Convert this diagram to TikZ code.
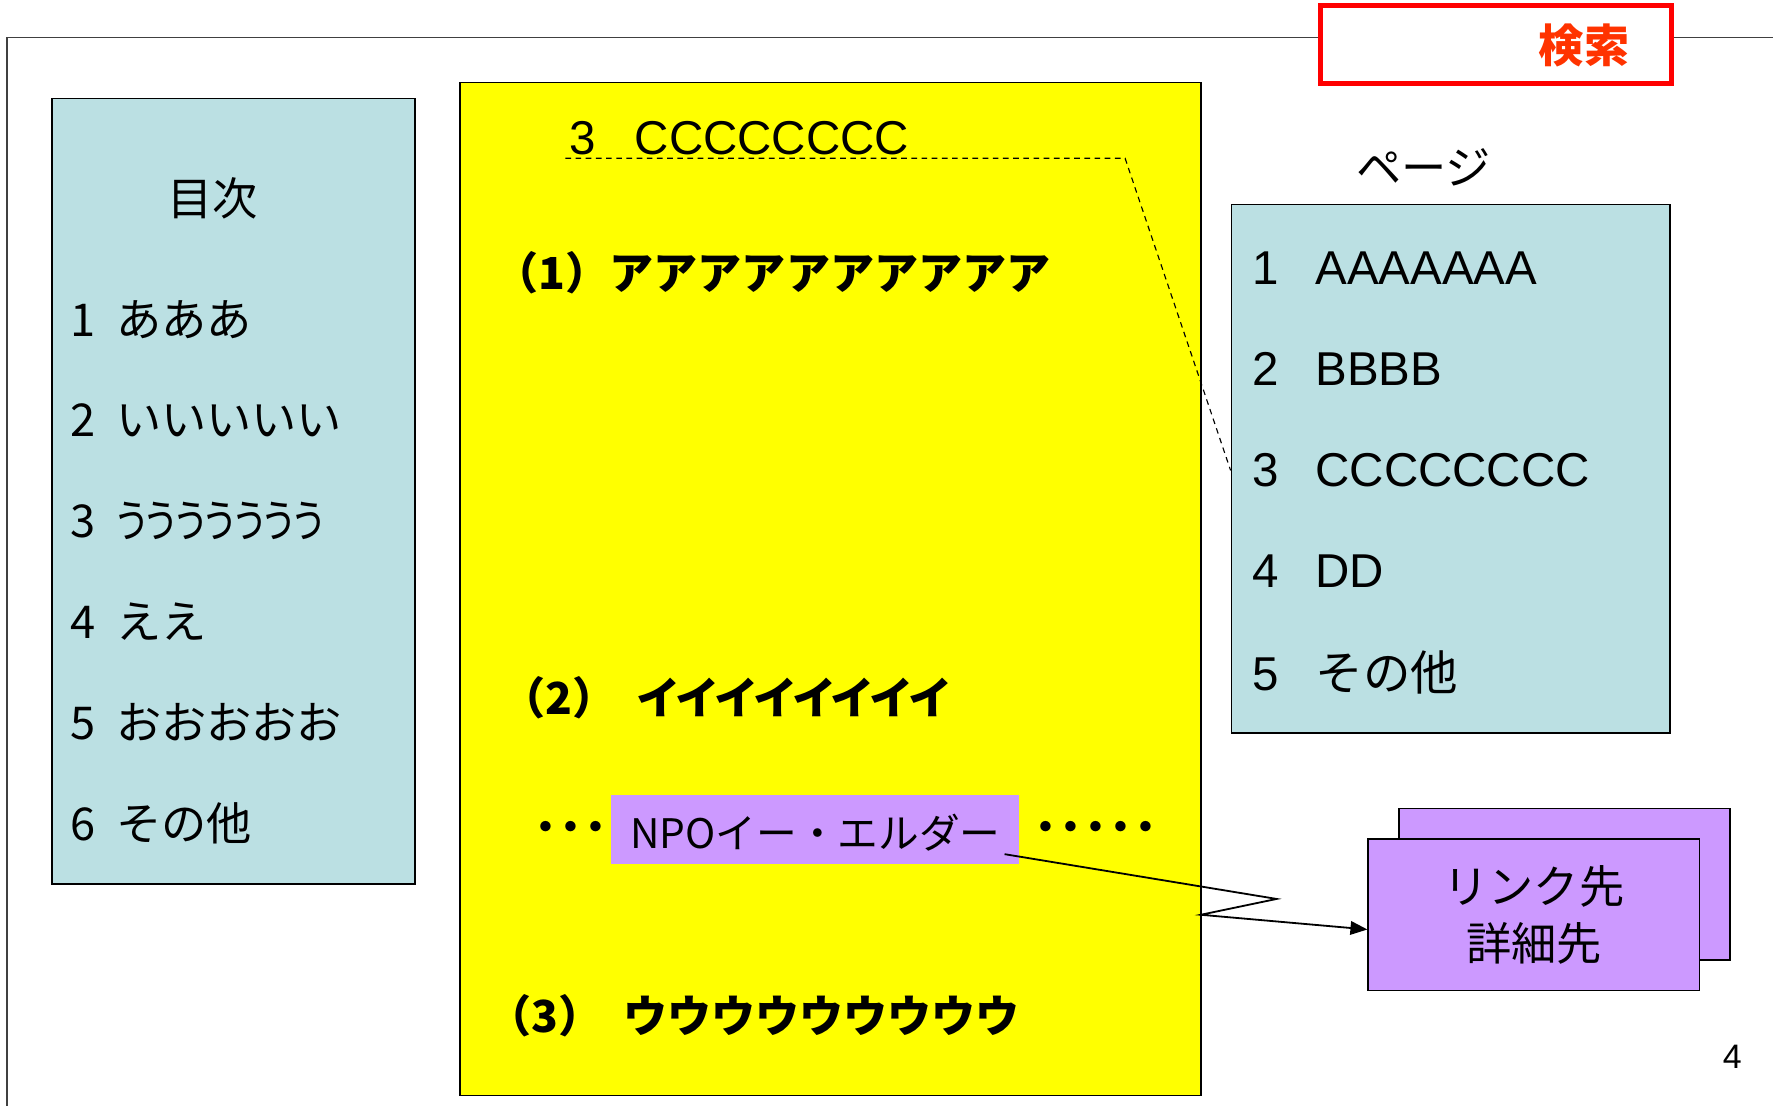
\documentclass[tikz,border=0pt]{standalone}
\usepackage{fontspec}
\setmainfont{Liberation Sans}
\newfontfamily\jp{Noto Sans CJK JP}
\newfontfamily\jpp[RawFeature=+palt, FakeStretch=0.82, LetterSpace=-3]{Noto Sans CJK JP}
\usepackage{tikz}
\usetikzlibrary{positioning, fit, arrows.meta}
\definecolor{tocblue}{HTML}{BBE0E3}
\definecolor{lilac}{HTML}{CC99FF}
\definecolor{pageyellow}{RGB}{255,255,0}
\definecolor{searchred}{HTML}{FF3300}
\tikzset{
  panel/.style = {draw, line width=0.7pt, inner sep=0pt},
  txt/.style = {inner sep=0pt, font=\jp\fontsize{20}{25.5}\selectfont},
  latin/.style = {inner sep=0pt, font=\fontsize{21}{25}\selectfont},
  head/.style = {inner sep=0pt, font=\jp\bfseries\fontsize{19.5}{24}\selectfont},
  dots/.style = {inner sep=0pt, font=\jp\bfseries\fontsize{22}{24}\selectfont},
  refline/.style = {dash pattern=on 2.5pt off 2pt, line width=0.5pt},
  link/.style = {-{Triangle[length=7.5pt,width=6pt]}, line width=0.8pt}
}

\begin{document}
\begin{tikzpicture}[x=0.5pt, y=-0.5pt]
    \useasboundingbox (0,0) rectangle (1568,978);
    \draw[line width=0.7pt, black!75] (1580,33) -- (6,33) -- (6,990);

    \node[draw=red, line width=2.2pt, fill=white, inner sep=0pt, fit={(1168,5) (1478,74)}] (search) {};
    \node[txt, text=searchred, font=\jp\bfseries\fontsize{20}{24}\selectfont] (searchlbl) at (1401,40) {検索};

    \node[panel, fill=tocblue, fit={(46,87) (367,782)}] (toc) {};
    \node[txt] (tochead) at (188,175) {目次};
    \foreach \n/\t [count=\i] in {1/あああ, 2/いいいいい, 3/{\jpp ううううううう}, 4/ええ, 5/おおおおお, 6/その他}
        \node[txt, anchor=west] (toc\i) at (62,{194+89*\i}) {\n\hspace{9pt}\t};

    \node[panel, fill=pageyellow, fit={(407,73) (1062,969)}] (body) {};
    \node[latin, anchor=west] (sec) at (503,122) {\makebox[29pt][l]{3}CCCCCCCC};
    \node[head, anchor=west] (h1) at (437,241) {（1）アアアアアアアアアア};
    \node[head, anchor=west] (h2) at (443,617) {（2）\hspace{9pt}{\addfontfeature{LetterSpace=-12}イイイイイイイイ}};
    \node[head, anchor=west] (h3) at (431,898) {（3）\hspace{9pt}ウウウウウウウウウ};
    \node[fill=lilac, inner sep=0pt, fit={(540,703) (901,764)}] (npo) {};
    \node[txt, anchor=west, font=\jp\fontsize{18}{22}\selectfont] (npolbl) at (557,736) {NPOイー・エルダー};
    \node[dots, anchor=east] (dotsl) at (538,737) {･･･};
    \node[dots, anchor=west] (dotsr) at (914,737) {･････};

    \node[txt] (pghead) at (1259,148) {ページ};
    \node[panel, fill=tocblue, fit={(1089,181) (1477,648)}] (pages) {};
    \foreach \n/\t [count=\i] in {1/AAAAAAA, 2/BBBB, 3/CCCCCCCC, 4/DD, 5/{\jp その他}}
        \node[latin, anchor=west] (pg\i) at (1107,{147.5+89.5*\i}) {\makebox[28pt][l]{\n}\t};

    \coordinate (u1) at (500,140);
    \coordinate (u2) at (995,140);
    \draw[refline] (u1) -- (u2) -- (pg3 -| pages.west);

    \node[panel, fill=lilac, fit={(1237,715) (1530,849)}] (linkback) {};
    \node[panel, fill=lilac, fit={(1210,742) (1503,876)}] (linkfront) {};
    \node[txt, align=center] (linklbl) at (linkfront.center) {リンク先\\詳細先};

    \coordinate (zz1) at (1129,795);
    \coordinate (zz2) at (1062,809);
    \draw[link] ([shift={(-13,-9)}]npo.south east) -- (zz1) -- (zz2) -- ([yshift=-6.5pt]linkfront.west);

    \node[latin, font=\fontsize{15}{18}\selectfont] (pgno) at (1532,935) {4};
\end{tikzpicture}
\end{document}
